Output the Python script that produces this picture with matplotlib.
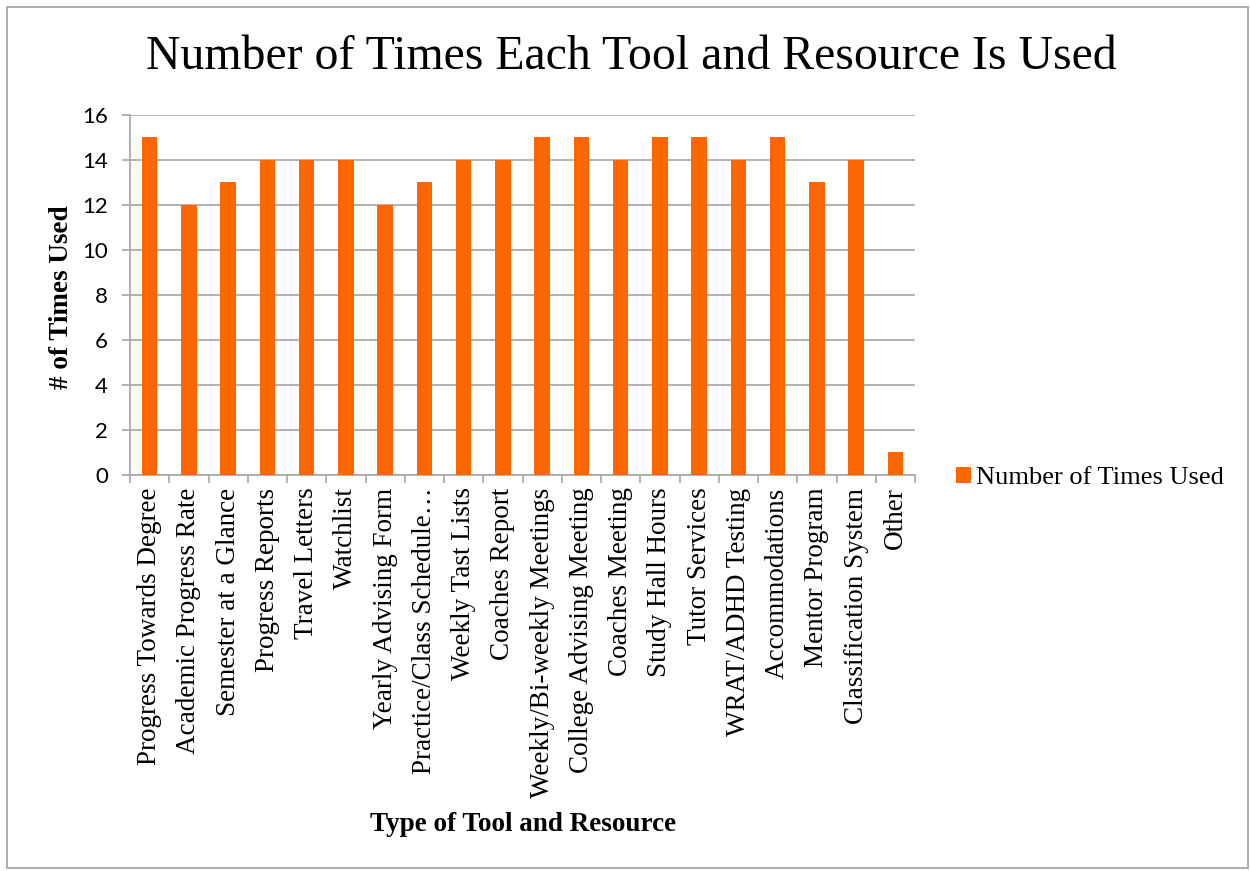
import matplotlib.pyplot as plt
from matplotlib.patches import Rectangle

# Chart data
categories = [
    "Progress Towards Degree", "Academic Progress Rate", "Semester at a Glance",
    "Progress Reports", "Travel Letters", "Watchlist", "Yearly Advising Form",
    "Practice/Class Schedule…", "Weekly Tast Lists", "Coaches Report",
    "Weekly/Bi-weekly Meetings", "College Advising Meeting", "Coaches Meeting",
    "Study Hall Hours", "Tutor Services", "WRAT/ADHD Testing", "Accommodations",
    "Mentor Program", "Classification System", "Other",
]
times_used = [15, 12, 13, 14, 14, 14, 12, 13, 14, 14, 15, 15, 14, 15, 15, 14, 15, 13, 14, 1]
y_ticks = [0, 2, 4, 6, 8, 10, 12, 14, 16]

SERIF = "Liberation Serif"
SANS = "Lato"
ORANGE = "#FF6600"
GRID = "#A6A6A6"

fig = plt.figure(figsize=(12.5, 8.71), dpi=100)
W, H = 1250, 871

# outer chart border
fig.patches.append(Rectangle((7 / W, 3 / H), (1248 - 7) / W, (864 - 3) / H,
                             transform=fig.transFigure, fill=False,
                             edgecolor="#A0A0A0", linewidth=1.2))

ax = fig.add_axes([130 / W, (H - 475) / H, (915 - 130) / W, (475 - 115) / H])

x = range(len(categories))
ax.bar(x, times_used, width=0.4, color=ORANGE, zorder=3,
       label="Number of Times Used")

ax.set_xlim(-0.5, len(categories) - 0.5)
ax.set_ylim(0, 16)
ax.set_yticks(y_ticks)
ax.set_yticklabels([str(v) for v in y_ticks], fontfamily=SANS, fontsize=16)
ax.yaxis.grid(True, color=GRID, linewidth=1.2, zorder=0)
ax.tick_params(axis="y", length=6, color=GRID, width=1.2, pad=10, direction="out")

# category boundary ticks on the x axis
ax.set_xticks([i - 0.5 for i in range(len(categories) + 1)], minor=True)
ax.set_xticks(list(x))
ax.set_xticklabels(categories, rotation=90, fontfamily=SERIF, fontsize=19.5,
                   ha="center", va="top")
ax.tick_params(axis="x", which="major", length=0, pad=9)
ax.tick_params(axis="x", which="minor", length=6, color=GRID, width=1.2)

for side in ["top", "right"]:
    ax.spines[side].set_visible(False)
for side in ["left", "bottom"]:
    ax.spines[side].set_color(GRID)
    ax.spines[side].set_linewidth(1.2)

fig.text(62 / W, 1 - 297 / H, "# of Times Used", fontfamily=SERIF,
         fontsize=19.5, fontweight="bold", rotation=90, ha="center", va="center")
fig.text(523 / W, 1 - 824 / H, "Type of Tool and Resource", fontfamily=SERIF,
         fontsize=19.5, fontweight="bold", ha="center", va="center")

fig.text(631 / W, 1 - 57 / H, "Number of Times Each Tool and Resource Is Used",
         fontfamily=SERIF, fontsize=34.4, ha="center", va="center")

ax.legend(loc="center left", bbox_to_anchor=(956 / W, 1 - 478 / H),
          bbox_transform=fig.transFigure, frameon=False, handlelength=0.55,
          handleheight=0.55, handletextpad=0.2, borderpad=0, borderaxespad=0,
          prop={"family": SERIF, "size": 19})

fig.savefig("out.png", dpi=100)
